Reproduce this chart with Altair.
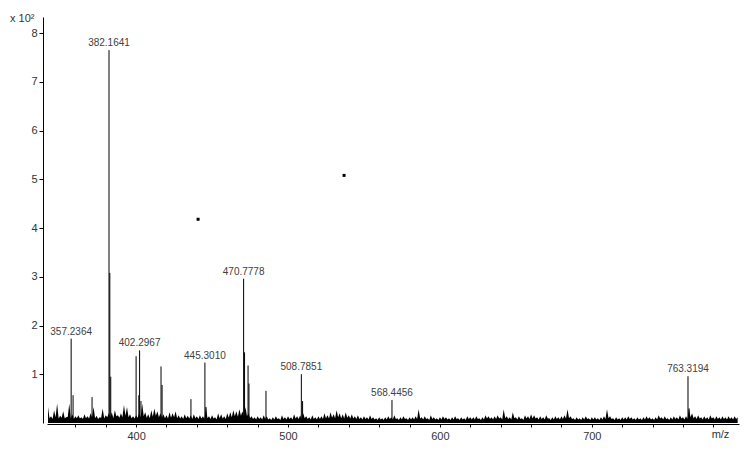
import altair as alt
import pandas as pd

# ---- data ----
# main peaks (m/z, intensity in units of 10^2 counts)
peak_mz = [357.24, 358.5, 371.0, 382.16, 382.7, 383.3, 400.0, 401.8, 402.3, 403.2,
           416.4, 417.1, 436.1, 445.3, 446.0, 470.78, 471.4, 473.7, 474.3, 485.5,
           508.79, 509.6, 568.45, 763.32, 764.0]
peak_int = [1.73, 0.57, 0.53, 7.65, 3.08, 0.95, 1.37, 0.57, 1.49, 0.45,
            1.16, 0.78, 0.49, 1.24, 0.33, 2.96, 1.45, 1.18, 0.81, 0.66,
            1.00, 0.45, 0.47, 0.96, 0.30]

# labelled peaks
label_mz = [382.16, 357.24, 402.3, 445.3, 470.78, 508.79, 568.45, 763.32]
label_int = [7.65, 1.73, 1.49, 1.24, 2.96, 1.00, 0.47, 0.96]
label_txt = ["382.1641", "357.2364", "402.2967", "445.3010", "470.7778",
             "508.7851", "568.4456", "763.3194"]

# two stray points
dot_mz = [440.8, 536.9]
dot_int = [4.18, 5.08]

# baseline noise maxima, every 2 m/z from 342 (hundredths of 10^2)
noise_hi_start = 342
noise_hi = [
    33, 14, 26, 40, 15, 24, 12, 40, 18, 14,
    16, 12, 18, 14, 20, 33, 15, 12, 30, 16,
    20, 22, 26, 16, 20, 37, 33, 18, 14, 16,
    20, 40, 22, 18, 26, 30, 24, 20, 18, 16,
    22, 20, 24, 16, 14, 18, 15, 16, 18, 14,
    16, 14, 33, 14, 16, 12, 20, 18, 14, 20,
    22, 26, 24, 28, 24, 33, 20, 14, 12, 14,
    12, 16, 14, 10, 12, 14, 10, 16, 12, 14,
    12, 18, 14, 16, 20, 14, 12, 16, 12, 14,
    14, 20, 16, 22, 18, 26, 20, 18, 22, 16,
    18, 14, 16, 12, 14, 12, 16, 12, 10, 12,
    10, 12, 14, 12, 16, 10, 12, 14, 10, 12,
    12, 14, 28, 12, 14, 10, 16, 12, 10, 12,
    14, 12, 10, 12, 14, 10, 12, 10, 14, 12,
    12, 14, 10, 12, 16, 14, 12, 14, 16, 12,
    28, 14, 12, 22, 12, 14, 10, 16, 14, 18,
    16, 12, 14, 12, 16, 10, 12, 14, 12, 14,
    16, 28, 14, 10, 12, 10, 12, 14, 10, 12,
    12, 10, 12, 14, 28, 14, 10, 12, 10, 12,
    12, 14, 12, 10, 12, 10, 12, 14, 12, 10,
    12, 16, 12, 14, 10, 12, 14, 12, 16, 12,
    14, 30, 20, 14, 16, 12, 14, 12, 16, 12,
    14, 12, 14, 12, 14, 12, 14, 12,
]
# baseline noise minima, every 2 m/z from 343 (hundredths of 10^2)
noise_lo_start = 343
noise_lo = [
    10, 8, 12, 9, 11, 10, 13, 9, 8, 10,
    9, 8, 10, 9, 12, 10, 8, 11, 9, 12,
    12, 10, 14, 11, 12, 15, 12, 10, 9, 11,
    12, 14, 11, 10, 13, 15, 12, 11, 10, 9,
    11, 12, 10, 9, 8, 10, 9, 8, 10, 8,
    9, 8, 10, 8, 9, 7, 10, 9, 8, 11,
    12, 14, 13, 15, 12, 14, 10, 8, 7, 8,
    7, 8, 7, 6, 7, 8, 6, 8, 7, 8,
    7, 9, 8, 8, 10, 8, 7, 8, 7, 8,
    8, 10, 9, 11, 10, 12, 10, 9, 11, 9,
    9, 8, 8, 7, 8, 7, 8, 7, 6, 7,
    6, 7, 8, 7, 8, 6, 7, 8, 6, 7,
    7, 8, 9, 7, 8, 6, 8, 7, 6, 7,
    8, 7, 6, 7, 8, 6, 7, 6, 8, 7,
    7, 8, 6, 7, 9, 8, 7, 8, 9, 7,
    10, 8, 7, 10, 7, 8, 6, 9, 8, 9,
    9, 7, 8, 7, 9, 6, 7, 8, 7, 8,
    9, 10, 8, 6, 7, 6, 7, 8, 6, 7,
    7, 6, 7, 8, 10, 8, 6, 7, 6, 7,
    7, 8, 7, 6, 7, 6, 7, 8, 7, 6,
    7, 9, 7, 8, 6, 7, 8, 7, 9, 7,
    8, 12, 10, 8, 9, 7, 8, 7, 9, 7,
    8, 7, 8, 7, 8, 7, 8,
]
noise_step = 2

x_ticks = [360, 380, 400, 420, 440, 460, 480, 500, 520, 540, 560, 580, 600,
           620, 640, 660, 680, 700, 720, 740, 760, 780]
y_ticks = [1, 2, 3, 4, 5, 6, 7, 8]

# ---- tables ----
rows = []
for i, v in enumerate(noise_hi):
    rows.append({"mz": float(noise_hi_start + noise_step * i), "inten": v / 100.0})
for i, v in enumerate(noise_lo):
    rows.append({"mz": float(noise_lo_start + noise_step * i), "inten": v / 100.0})
rows.sort(key=lambda r: r["mz"])
noise_df = pd.DataFrame(rows)
peak_df = pd.DataFrame({"mz": peak_mz, "inten": peak_int})
peak_df["base"] = 0.0
label_df = pd.DataFrame({"mz": label_mz, "inten": label_int, "txt": label_txt})
dot_df = pd.DataFrame({"mz": dot_mz, "inten": dot_int})

FONT = "Liberation Sans"

x_enc = alt.X("mz:Q",
              scale=alt.Scale(domain=[341.34, 796.9], nice=False, zero=False),
              axis=alt.Axis(values=x_ticks,
                            labelExpr="datum.value % 100 === 0 ? datum.value : ''",
                            title="m/z", titleX=673, titleY=10,
                            titleAlign="center", titleBaseline="middle",
                            titleFontWeight="normal", titleFontSize=11,
                            titleFont=FONT, titleColor="#333333",
                            grid=False, tickSize=3, offset=1,
                            labelFontSize=11, labelFont=FONT,
                            labelColor="#333333", labelPadding=3,
                            domainColor="#000000", tickColor="#000000"))
y_enc = alt.Y("inten:Q",
              scale=alt.Scale(domain=[0, 8.33], nice=False),
              axis=alt.Axis(values=y_ticks, format="d",
                            title="x 10²", titleAngle=0, titleX=-9, titleY=4,
                            titleAlign="right", titleBaseline="alphabetic",
                            titleFontWeight="normal", titleFontSize=11,
                            titleFont=FONT, titleColor="#333333",
                            grid=False, tickSize=4, offset=4,
                            labelFontSize=11, labelFont=FONT,
                            labelColor="#333333", labelPadding=2,
                            domainColor="#000000", tickColor="#000000"))

noise = alt.Chart(noise_df).mark_area(color="black", opacity=1,
                                      interpolate="linear").encode(
    x=x_enc, y=y_enc)
peaks = alt.Chart(peak_df).mark_rule(color="black", strokeWidth=1).encode(
    x=x_enc, y=y_enc, y2="base:Q")
labels = alt.Chart(label_df).mark_text(
    baseline="bottom", align="center", dy=-2, fontSize=10, font=FONT,
    color="#404040").encode(x=x_enc, y=y_enc, text="txt:N")
dots = alt.Chart(dot_df).mark_square(size=9, color="black", opacity=1).encode(
    x=x_enc, y=y_enc)

chart = alt.layer(noise, peaks, labels, dots).properties(
    width=692, height=406,
    autosize=alt.AutoSizeParams(type="none"),
    padding={"left": 39, "top": 9, "right": 2, "bottom": 19},
    background="white",
).configure_view(stroke=None)

chart.save("out.html", embed_options={"renderer": "svg", "actions": False})
